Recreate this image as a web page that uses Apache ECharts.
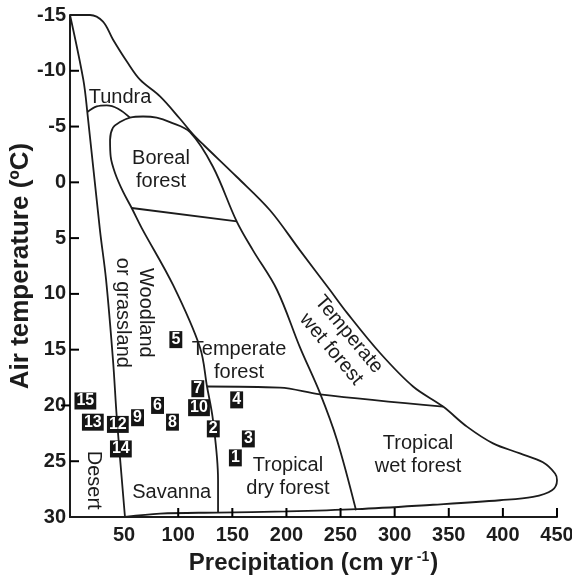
<!DOCTYPE html>
<html><head><meta charset="utf-8">
<script src="https://cdn.jsdelivr.net/npm/echarts@6/dist/echarts.min.js"></script>
<style>html,body{margin:0;padding:0;background:#fff}#c{width:572px;height:578px}</style>
</head><body><div id="c"></div>
<script>
// ---- Data (precipitation cm/yr, air temperature °C) ----
const xTickValues = [100, 150, 200, 250, 300, 350, 400, 450];
const yTickInside = [-10, -5, 0, 5, 10, 15, 25];
const yTickOutside = [20];

const outerBoundary = [[0,-15],[18.5,-15],[30.5,-14.4],[39.7,-12.8],[52.7,-10.8],[64.7,-9.2],[83.2,-7.7],[101.6,-5.7],[113.7,-4.3],[124,-3.3],[154,-0.5],[184.8,2.5],[212.5,6.1],[240.2,9.65],[256,11.7],[286.5,15.3],[317,18.3],[344.7,20.1],[366.8,21.9],[390.9,23.4],[415.8,24.3],[437,25.1],[448.2,26.1],[450,26.7],[445.4,27.6],[427.8,28.2],[397.3,28.5],[335.4,28.9],[265,29.3],[200.2,29.5],[135.6,29.6],[83.2,29.7],[50.8,30]];
const desertBoundary = [[0,-15],[12.3,-9.2],[16,-6.3],[27.7,4.3],[33.3,8.7],[39.7,15.9],[43.4,21.3],[50.8,30]];
const tundraBoundary = [[16,-6.3],[24.7,-6.8],[33.9,-6.9],[44.4,-6.6],[55.4,-5.8]];
const borealLoop = [[136.8,29.6],[136.8,26.7],[132.1,21.3],[126.6,18.3],[120.1,14.8],[95.2,9.2],[66.3,4.1],[57,2.3],[49,0.84],[41.6,-0.84],[37.6,-2.3],[37,-3.8],[39.7,-4.9],[46.2,-5.4],[55.4,-5.8],[67.5,-5.9],[80.1,-5.8],[92.4,-5.4],[110.9,-4.5],[132.1,-1.4],[154,3.5],[169.1,6.1],[191.3,9.65],[212.5,14.8],[231,18.9],[246.7,23.1],[264.3,29.4]];
const borealBase = [[57,2.3],[154.3,3.5]];
const temperateTropicalBoundary = [[126.6,18.3],[194,18.4],[231,19.0],[344.7,20.1]];

const biomeNames = ['Tundra','Boreal\nforest','Woodland\nor grassland','Desert','Savanna','Temperate\nforest','Tropical\ndry forest','Tropical\nwet forest','Temperate\nwet forest'];
const biomeX = [46.2, 84.1, 59.1, 21.3, 94, 156.2, 201.4, 321.6, 249.5];
const biomeY = [-7.65, -1.1, 11.7, 26.7, 27.8, 16.0, 26.4, 24.4, 14.3];

const siteIds = ['1','2','3','4','5','6','7','8','9','10','12','13','14','15'];
const sitePrecip = [152.8, 132.4, 164.8, 154, 97.8, 80.9, 118.1, 94.7, 62.4, 119.2, 44.2, 21.1, 47, 14.2];
const siteTemp = [24.7, 22.1, 23.0, 19.5, 14.1, 20.0, 18.5, 21.5, 21.1, 20.2, 21.7, 21.5, 23.9, 19.6];

// ---- Styling / options ----
const FONT = "'Liberation Sans', Arial, Helvetica, sans-serif";
const INK = '#1c1c1c';
const rotations = {'Woodland\nor grassland': -90, 'Desert': -90, 'Temperate\nwet forest': -50};
const X_MIN = 0, X_MAX = 450, Y_MIN = -15, Y_MAX = 30;
const GRID = { left: 70, right: 15, top: 15, bottom: 61 };
const TICK_PX = 9;

function lineSeries(data) {
  return { type: 'line', data: data, smooth: 0.35, symbol: 'none', silent: true,
    lineStyle: { color: INK, width: 1.8 }, z: 2 };
}

const option = {
  animation: false,
  backgroundColor: '#fff',
  grid: Object.assign({ containLabel: false, outerBoundsMode: 'none' }, GRID),
  xAxis: {
    type: 'value', min: X_MIN, max: X_MAX, interval: 50,
    name: '{a|Precipitation (cm yr}{s| -1}{a|)}',
    nameLocation: 'middle', nameGap: 30,
    nameTextStyle: { fontFamily: FONT, color: INK, fontSize: 24, fontWeight: 'bold',
      rich: { a: { fontFamily: FONT, color: INK, fontSize: 24, fontWeight: 'bold', lineHeight: 26 },
              s: { fontFamily: FONT, color: INK, fontSize: 14, fontWeight: 'bold', verticalAlign: 'top', lineHeight: 26, padding: [0, 1, 12, 0] } } },
    axisLine: { show: true, onZero: false, lineStyle: { color: INK, width: 2 } },
    axisTick: { show: false },
    axisLabel: { formatter: v => (v === 0 ? '' : String(v)), fontFamily: FONT, fontSize: 20, fontWeight: 'bold', color: INK, margin: 8 },
    splitLine: { show: false }
  },
  yAxis: {
    type: 'value', min: Y_MIN, max: Y_MAX, interval: 5, inverse: true,
    name: 'Air temperature (ºC)', nameLocation: 'middle', nameGap: 36, nameMoveOverlap: false,
    nameTextStyle: { fontFamily: FONT, color: INK, fontSize: 26, fontWeight: 'bold' },
    axisLine: { show: true, onZero: false, lineStyle: { color: INK, width: 2 } },
    axisTick: { show: false },
    axisLabel: { fontFamily: FONT, fontSize: 20, fontWeight: 'bold', color: INK, margin: 4 },
    splitLine: { show: false }
  },
  series: [
    lineSeries(outerBoundary),
    lineSeries(desertBoundary),
    lineSeries(tundraBoundary),
    lineSeries(borealLoop),
    lineSeries(borealBase),
    lineSeries(temperateTropicalBoundary),
    {
      type: 'scatter', silent: true, symbolSize: 0.01, z: 5,
      itemStyle: { color: 'transparent', opacity: 1 },
      data: biomeNames.map((n, i) => ({ name: n, value: [biomeX[i], biomeY[i]],
        label: { rotate: rotations[n] || 0 } })),
      label: { show: true, position: 'inside', formatter: '{b}', align: 'center', verticalAlign: 'middle',
        fontFamily: FONT, fontSize: 20, lineHeight: 23, color: INK, opacity: 1 }
    },
    {
      type: 'scatter', silent: true, symbolSize: 0.01, z: 6,
      itemStyle: { color: 'transparent', opacity: 1 },
      data: siteIds.map((n, i) => ({ name: n, value: [sitePrecip[i], siteTemp[i]] })),
      label: { show: true, position: 'inside', formatter: '{b}', align: 'center', verticalAlign: 'middle',
        fontFamily: FONT, fontSize: 16, fontWeight: 'bold', lineHeight: 16, color: '#fff', opacity: 1,
        backgroundColor: '#151515', padding: [1, 2, 0, 2] }
    }
  ]
};

const chart = echarts.init(document.getElementById('c'), null, { renderer: 'canvas' });
chart.setOption(option);

// Tick marks placed through the chart's own scales (convertToPixel)
const tickGraphics = [];
function addTick(val, dx, dy) {
  const p = chart.convertToPixel({ gridIndex: 0 }, val);
  tickGraphics.push({ type: 'line', z: 100, silent: true,
    shape: { x1: p[0], y1: p[1], x2: p[0] + dx, y2: p[1] + dy },
    style: { stroke: '#000', lineWidth: 2 } });
}
xTickValues.forEach(v => addTick([v, Y_MAX], 0, -TICK_PX));
yTickInside.forEach(t => addTick([X_MIN, t], TICK_PX, 0));
yTickOutside.forEach(t => addTick([X_MIN, t], -TICK_PX, 0));
chart.setOption({ graphic: { elements: tickGraphics } });
</script>
</body></html>
